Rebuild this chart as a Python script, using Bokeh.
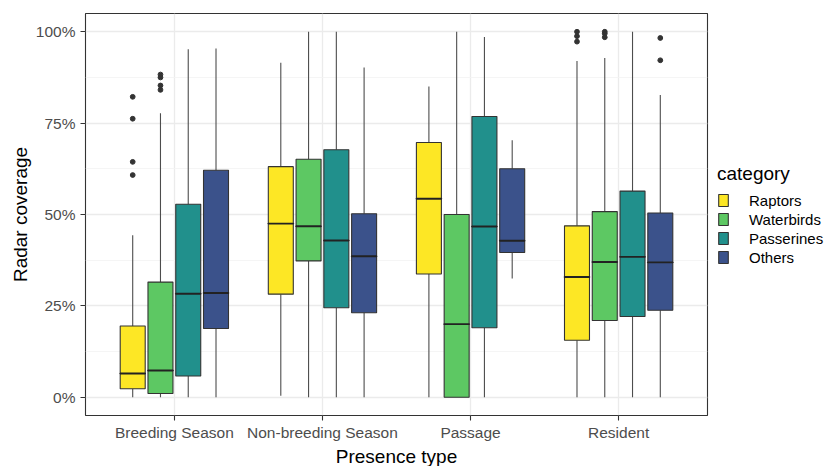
from bokeh.plotting import figure
from bokeh.models import (FixedTicker, NumeralTickFormatter, Legend, LegendItem,
                          Range1d, ColumnDataSource)
from bokeh.embed import file_html
from bokeh.resources import INLINE

# ---------------- data ----------------
presence = ["Breeding Season", "Non-breeding Season", "Passage", "Resident"]
categories = ["Raptors", "Waterbirds", "Passerines", "Others"]
colors = ["#FDE725", "#5DC863", "#21908C", "#3B528B"]

# values per category, in the order of `presence` (fractions of 1)
q1_raptors = [0.023, 0.282, 0.337, 0.156]
q1_waterbirds = [0.010, 0.373, 0.000, 0.210]
q1_passerines = [0.058, 0.245, 0.190, 0.221]
q1_others = [0.188, 0.231, 0.396, 0.238]

med_raptors = [0.065, 0.475, 0.543, 0.329]
med_waterbirds = [0.073, 0.468, 0.200, 0.370]
med_passerines = [0.283, 0.429, 0.467, 0.384]
med_others = [0.285, 0.386, 0.428, 0.369]

q3_raptors = [0.195, 0.631, 0.697, 0.469]
q3_waterbirds = [0.315, 0.651, 0.500, 0.508]
q3_passerines = [0.528, 0.677, 0.768, 0.564]
q3_others = [0.621, 0.502, 0.625, 0.504]

lo_raptors = [0.0, 0.004, 0.0, 0.0]
lo_waterbirds = [0.0, 0.0, 0.0, 0.0]
lo_passerines = [0.0, 0.0, 0.0, 0.0]
lo_others = [0.0, 0.0, 0.325, 0.0]

hi_raptors = [0.443, 0.915, 0.850, 0.920]
hi_waterbirds = [0.777, 1.000, 1.000, 0.928]
hi_passerines = [0.952, 1.000, 0.986, 1.000]
hi_others = [0.954, 0.902, 0.703, 0.827]

out_presence = ["Breeding Season"] * 8 + ["Resident"] * 8
out_category = (["Raptors"] * 4 + ["Waterbirds"] * 4 +
                ["Raptors"] * 3 + ["Waterbirds"] * 3 + ["Others"] * 2)
out_value = [0.822, 0.762, 0.644, 0.608,
             0.883, 0.875, 0.853, 0.841,
             1.000, 0.988, 0.973,
             1.000, 0.995, 0.985,
             0.983, 0.922]

y_ticks = [0.0, 0.25, 0.5, 0.75, 1.0]
y_minor = [0.125, 0.375, 0.625, 0.875]

q1 = [q1_raptors, q1_waterbirds, q1_passerines, q1_others]
med = [med_raptors, med_waterbirds, med_passerines, med_others]
q3 = [q3_raptors, q3_waterbirds, q3_passerines, q3_others]
lo = [lo_raptors, lo_waterbirds, lo_passerines, lo_others]
hi = [hi_raptors, hi_waterbirds, hi_passerines, hi_others]

# ---------------- figure ----------------
FONT = "Liberation Sans"
p = figure(frame_width=622, frame_height=402, output_backend="svg",
           toolbar_location=None,
           x_range=Range1d(0.4, 4.6), y_range=Range1d(-0.05, 1.05),
           min_border_left=85, min_border_right=8, min_border_top=13,
           min_border_bottom=40)
p.background_fill_color = "white"
p.border_fill_color = "white"
p.outline_line_color = "#333333"
p.outline_line_width = 1.1

# grids
p.ygrid.ticker = FixedTicker(ticks=y_ticks, minor_ticks=y_minor)
p.ygrid.grid_line_color = "#EBEBEB"
p.ygrid.grid_line_width = 1.3
p.ygrid.minor_grid_line_color = "#F2F2F2"
p.ygrid.minor_grid_line_width = 0.8
p.xgrid.ticker = FixedTicker(ticks=[1, 2, 3, 4])
p.xgrid.grid_line_color = "#EBEBEB"
p.xgrid.grid_line_width = 1.3

# axes
p.yaxis.ticker = FixedTicker(ticks=y_ticks)
p.yaxis.formatter = NumeralTickFormatter(format="0%")
p.xaxis.ticker = FixedTicker(ticks=[1, 2, 3, 4])
p.xaxis.major_label_overrides = {i + 1: name for i, name in enumerate(presence)}
for ax in (p.xaxis, p.yaxis):
    ax.axis_line_color = None
    ax.major_tick_line_color = "#333333"
    ax.major_tick_line_width = 1.1
    ax.major_tick_out = 5
    ax.major_tick_in = 0
    ax.minor_tick_line_color = None
    ax.major_label_text_font = FONT
    ax.major_label_text_font_size = "15.5px"
    ax.major_label_text_color = "#4D4D4D"
    ax.axis_label_text_font = FONT
    ax.axis_label_text_font_size = "19px"
    ax.axis_label_text_font_style = "normal"
    ax.axis_label_text_color = "black"
p.xaxis.axis_label = "Presence type"
p.yaxis.axis_label = "Radar coverage"
p.xaxis.major_label_standoff = 3
p.xaxis.axis_label_standoff = 2
p.yaxis.major_label_standoff = 5
p.yaxis.axis_label_standoff = 2

# dodged boxplots
n = len(categories)
slot = 0.75 / n
box_w = slot * 0.9
items = []
for j, cat in enumerate(categories):
    off = (j - (n - 1) / 2) * slot
    xs = [i + 1 + off for i in range(len(presence))]
    src = ColumnDataSource(dict(x=xs, q1=q1[j], med=med[j], q3=q3[j],
                                lo=lo[j], hi=hi[j]))
    p.segment(x0="x", y0="q3", x1="x", y1="hi", source=src,
              line_color="#4D4D4D", line_width=1.1)
    p.segment(x0="x", y0="lo", x1="x", y1="q1", source=src,
              line_color="#4D4D4D", line_width=1.1)
    r = p.vbar(x="x", width=box_w, bottom="q1", top="q3", source=src,
               fill_color=colors[j], line_color="#333333", line_width=1.1)
    p.rect(x="x", y="med", width=box_w, height=0.0001, source=src,
           fill_alpha=0, line_color="#222222", line_width=1.9)
    items.append(LegendItem(label=cat, renderers=[r]))

ox = []
for pr, cat in zip(out_presence, out_category):
    i = presence.index(pr)
    j = categories.index(cat)
    ox.append(i + 1 + (j - (n - 1) / 2) * slot)
p.scatter(x=ox, y=out_value, size=4.8, color="#333333")

legend = Legend(items=items, title="category", location="center_left")
legend.title_text_font = FONT
legend.title_text_font_size = "19px"
legend.title_text_font_style = "normal"
legend.title_text_color = "black"
legend.title_standoff = 7
legend.label_text_font = FONT
legend.label_text_font_size = "15px"
legend.label_text_color = "black"
legend.label_standoff = 20
legend.glyph_width = 12
legend.glyph_height = 15
legend.label_height = 15
legend.spacing = 2
legend.padding = 4
legend.margin = 10
legend.border_line_color = None
legend.background_fill_alpha = 0
p.add_layout(legend, "right")

open("out.html", "w").write(file_html(p, INLINE))
